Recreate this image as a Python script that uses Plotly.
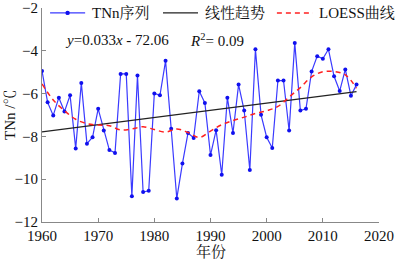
import numpy as np
import plotly.graph_objects as go

years = list(range(1960, 2017))
tnn = [-4.94, -6.41, -7.02, -6.19, -6.84, -6.08, -8.56, -5.50, -8.34, -8.04,
       -6.71, -7.73, -8.64, -8.77, -5.08, -5.08, -10.80, -5.15, -10.60, -10.54,
       -5.99, -6.08, -4.47, -7.64, -10.90, -9.27, -7.84, -8.07, -5.89, -6.44,
       -8.87, -7.71, -9.79, -6.19, -7.84, -5.58, -6.79, -9.57, -3.93, -6.99,
       -8.04, -8.54, -5.39, -5.39, -7.73, -3.63, -6.79, -6.71, -4.97, -4.25,
       -4.37, -3.93, -5.19, -5.88, -4.87, -6.10, -5.58]

loess_years = [1960, 1962, 1964, 1966, 1968, 1970, 1972, 1974, 1976, 1978, 1980,
               1982, 1984, 1986, 1988, 1990, 1992, 1994, 1996, 1998, 2000, 2002,
               2004, 2006, 2008, 2010, 2012, 2014, 2016]
loess_vals = [-5.55, -6.3, -6.8, -7.2, -7.4, -7.47, -7.5, -7.7, -7.65, -7.55, -7.68,
              -7.8, -7.65, -7.82, -8.05, -7.75, -7.45, -7.26, -7.1, -6.93, -6.8, -6.6,
              -6.16, -5.72, -5.22, -4.98, -4.97, -5.12, -5.75]

x_ticks = [1960, 1970, 1980, 1990, 2000, 2010, 2020]
y_ticks = [-2, -4, -6, -8, -10, -12]
series_names = ["TNn序列", "线性趋势", "LOESS曲线"]
equation_text = "<i>y</i>=0.033<i>x</i> - 72.06"
r2_text = "<i>R</i><sup>2</sup>= 0.09"

slope, intercept = np.polyfit(years, tnn, 1)
trend_x = [years[0], years[-1]]
trend_y = [slope * v + intercept for v in trend_x]

SERIF = "Liberation Serif, Noto Serif CJK SC, Noto Sans CJK SC, serif"
BLUE_LINE = "#3a3aff"
BLUE_MARK = "#1010ee"
BLACK = "#222222"
RED = "#ff2020"
AXIS = "#888888"
TXT = "#111111"
DASH = "5px,4px"

fig = go.Figure()
fig.add_trace(go.Scatter(x=years, y=tnn, mode="lines+markers", name=series_names[0],
                         line=dict(color=BLUE_LINE, width=1.2),
                         marker=dict(color=BLUE_MARK, size=4), showlegend=False))
fig.add_trace(go.Scatter(x=trend_x, y=trend_y, mode="lines", name=series_names[1],
                         line=dict(color=BLACK, width=1.2), showlegend=False))
fig.add_trace(go.Scatter(x=loess_years, y=loess_vals, mode="lines", name=series_names[2],
                         line=dict(color=RED, width=1.5, dash=DASH, shape="spline"),
                         showlegend=False))

# --- manual legend (paper coordinates) ---
ly = 0.977
legend_items = [
    (0.024, 0.128, 0.143, BLUE_LINE, "solid", True),
    (0.359, 0.463, 0.478, BLACK, "solid", False),
    (0.697, 0.804, 0.817, RED, DASH, False),
]
for (x0, x1, xt, col, dash, mark), name in zip(legend_items, series_names):
    fig.add_shape(type="line", xref="paper", yref="paper", x0=x0, x1=x1, y0=ly, y1=ly,
                  line=dict(color=col, width=1.3 if dash == "solid" else 1.5, dash=dash))
    if mark:
        xm = (x0 + x1) / 2
        fig.add_shape(type="circle", xref="paper", yref="paper",
                      x0=xm - 0.0065, x1=xm + 0.0065, y0=ly - 0.0102, y1=ly + 0.0102,
                      fillcolor=BLUE_MARK, line=dict(width=0))
    fig.add_annotation(x=xt, y=ly, xref="paper", yref="paper", xanchor="left",
                       yanchor="middle", showarrow=False, text=name,
                       font=dict(family=SERIF, size=15, color=TXT))

fig.add_annotation(x=0.062, y=0.852, xref="paper", yref="paper", xanchor="left",
                   yanchor="middle", showarrow=False, text=equation_text,
                   font=dict(family=SERIF, size=15, color=TXT))
fig.add_annotation(x=0.433, y=0.852, xref="paper", yref="paper", xanchor="left",
                   yanchor="middle", showarrow=False, text=r2_text,
                   font=dict(family=SERIF, size=15, color=TXT))

# axis titles
fig.add_annotation(x=-0.095, y=0.5, xref="paper", yref="paper", xanchor="center",
                   yanchor="middle", showarrow=False, text="TNn /℃", textangle=-90,
                   font=dict(family=SERIF, size=15, color=TXT))
fig.add_annotation(x=0.5, y=-0.14, xref="paper", yref="paper", xanchor="center",
                   yanchor="middle", showarrow=False, text="年份",
                   font=dict(family=SERIF, size=15, color=TXT))

fig.update_layout(
    width=396, height=260,
    margin=dict(l=42, r=17, t=8, b=38),
    paper_bgcolor="white", plot_bgcolor="white",
    font=dict(family=SERIF, size=15, color=TXT),
    showlegend=False,
    xaxis=dict(range=[1960, 2020], tickvals=x_ticks, showgrid=False, zeroline=False,
               showline=True, linecolor=AXIS, linewidth=1.2, ticks="inside",
               tickcolor=AXIS, ticklen=4, automargin=False,
               tickfont=dict(family=SERIF, size=15, color=TXT)),
    yaxis=dict(range=[-12, -2], tickvals=y_ticks, showgrid=False, zeroline=False,
               showline=True, linecolor=AXIS, linewidth=1.2, ticks="inside",
               tickcolor=AXIS, ticklen=4, automargin=False,
               tickfont=dict(family=SERIF, size=15, color=TXT)),
)

fig.write_html("out.html",
               config={"displayModeBar": False},
               post_script="document.body.style.margin='0';document.body.style.padding='0';"
                           "document.body.style.overflow='hidden';")
